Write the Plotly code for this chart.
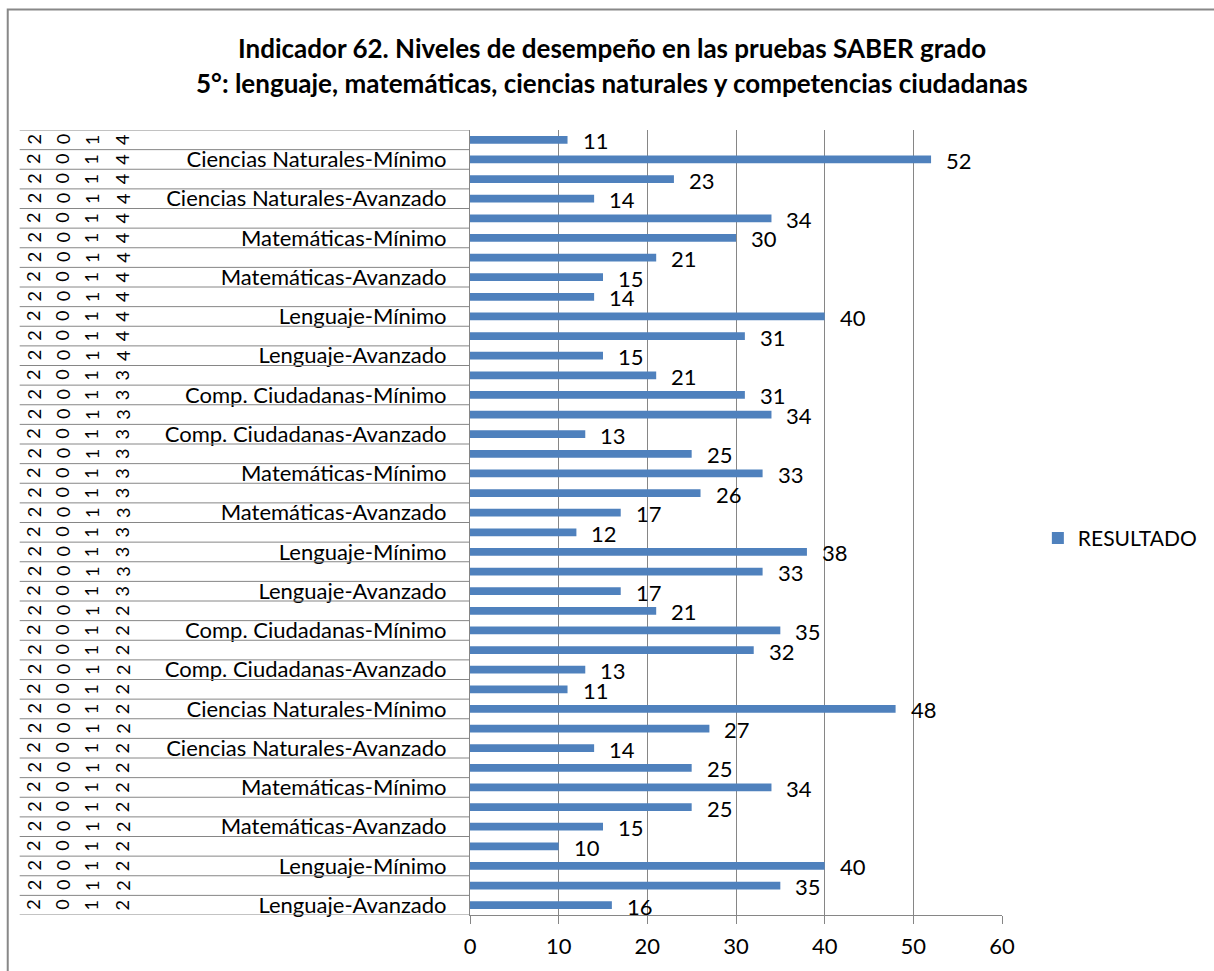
import plotly.graph_objects as go

# ---------------- data (bottom row first) ----------------
years = ["2012"] * 16 + ["2013"] * 12 + ["2014"] * 12

categories_2012 = [
    "Lenguaje-Avanzado", "Lenguaje-Satisfactorio", "Lenguaje-Mínimo", "Lenguaje-Insuficiente",
    "Matemáticas-Avanzado", "Matemáticas-Satisfactorio", "Matemáticas-Mínimo", "Matemáticas-Insuficiente",
    "Ciencias Naturales-Avanzado", "Ciencias Naturales-Satisfactorio", "Ciencias Naturales-Mínimo",
    "Ciencias Naturales-Insuficiente",
    "Comp. Ciudadanas-Avanzado", "Comp. Ciudadanas-Satisfactorio", "Comp. Ciudadanas-Mínimo",
    "Comp. Ciudadanas-Insuficiente",
]
values_2012 = [16, 35, 40, 10, 15, 25, 34, 25, 14, 27, 48, 11, 13, 32, 35, 21]

categories_2013 = [
    "Lenguaje-Avanzado", "Lenguaje-Satisfactorio", "Lenguaje-Mínimo", "Lenguaje-Insuficiente",
    "Matemáticas-Avanzado", "Matemáticas-Satisfactorio", "Matemáticas-Mínimo", "Matemáticas-Insuficiente",
    "Comp. Ciudadanas-Avanzado", "Comp. Ciudadanas-Satisfactorio", "Comp. Ciudadanas-Mínimo",
    "Comp. Ciudadanas-Insuficiente",
]
values_2013 = [17, 33, 38, 12, 17, 26, 33, 25, 13, 34, 31, 21]

categories_2014 = [
    "Lenguaje-Avanzado", "Lenguaje-Satisfactorio", "Lenguaje-Mínimo", "Lenguaje-Insuficiente",
    "Matemáticas-Avanzado", "Matemáticas-Satisfactorio", "Matemáticas-Mínimo", "Matemáticas-Insuficiente",
    "Ciencias Naturales-Avanzado", "Ciencias Naturales-Satisfactorio", "Ciencias Naturales-Mínimo",
    "Ciencias Naturales-Insuficiente",
]
values_2014 = [15, 31, 40, 14, 15, 21, 30, 34, 14, 23, 52, 11]

x_ticks = [0, 10, 20, 30, 40, 50, 60]
series_name = "RESULTADO"
title_line1 = "Indicador 62. Niveles de desempeño en las pruebas SABER grado"
title_line2 = "5°: lenguaje, matemáticas, ciencias naturales y competencias ciudadanas"

categories = categories_2012 + categories_2013 + categories_2014
values = values_2012 + values_2013 + values_2014
rows = list(range(len(values)))

# ---------------- layout geometry (pixels) ----------------
W_FIG, H_FIG = 1214, 971
L, R, T, B = 470, 1004, 130, 918
PW, PH = R - L, B - T


def px(x):
    return (x - L) / PW


def py(y):
    return (B - y) / PH


FONT = "Lato"
BLUE = "#4F81BD"
GRAY = "#868686"

fig = go.Figure()
fig.add_trace(go.Bar(
    x=values, y=rows, orientation="h", width=0.4,
    marker=dict(color=BLUE, line=dict(width=0)),
    name=series_name, showlegend=True,
))

annotations = []
# data labels
for i, v in zip(rows, values):
    annotations.append(dict(
        x=v, y=i, xref="x", yref="y", text=str(v), showarrow=False,
        xanchor="left", yanchor="middle", xshift=13, yshift=-1,
        font=dict(family=FONT, size=22, color="#000000"),
    ))

# rotated year digits
digit_x = [32, 61, 90, 121]
for i, yr in zip(rows, years):
    for k, ch in enumerate(yr):
        annotations.append(dict(
            x=px(digit_x[k]), y=i, xref="paper", yref="y", text=ch, showarrow=False,
            textangle=-90, xanchor="center", yanchor="middle",
            font=dict(family=FONT, size=18, color="#000000"),
        ))

# title
annotations.append(dict(x=px(613), y=py(48), xref="paper", yref="paper", text="<b>" + title_line1 + "</b>",
                        showarrow=False, xanchor="center", yanchor="middle",
                        font=dict(family=FONT, size=26, color="#000000")))
annotations.append(dict(x=px(613), y=py(83), xref="paper", yref="paper", text="<b>" + title_line2 + "</b>",
                        showarrow=False, xanchor="center", yanchor="middle",
                        font=dict(family=FONT, size=26, color="#000000")))

shapes = []
# category separators in label area
for b in range(len(values) + 1):
    shapes.append(dict(type="line", xref="paper", yref="y", x0=px(18), x1=0,
                       y0=b - 0.5, y1=b - 0.5, line=dict(color=GRAY, width=1)))
# outer chart border
shapes.append(dict(type="rect", xref="paper", yref="paper", x0=px(6), x1=px(1230),
                   y0=py(990), y1=py(9), line=dict(color="#888888", width=2), layer="below"))

fig.update_layout(
    width=W_FIG, height=H_FIG,
    margin=dict(l=L, r=W_FIG - R, t=T, b=H_FIG - B, pad=0),
    paper_bgcolor="white", plot_bgcolor="white",
    font=dict(family=FONT, color="#000000"),
    xaxis=dict(
        range=[0, 60], tickvals=x_ticks, ticktext=[str(t) for t in x_ticks],
        showgrid=True, gridcolor=GRAY, gridwidth=1,
        showline=True, linecolor=GRAY, linewidth=1,
        ticks="outside", ticklen=8, tickcolor=GRAY, tickwidth=1,
        tickfont=dict(family=FONT, size=22, color="#000000"),
        ticklabelstandoff=4, zeroline=False, fixedrange=True,
    ),
    yaxis=dict(
        range=[-0.5, len(values) - 0.5],
        tickvals=rows[0::2], ticktext=categories[0::2],
        showgrid=False, showline=True, linecolor=GRAY, linewidth=1,
        ticks="", tickfont=dict(family=FONT, size=22, color="#000000"),
        ticklabelstandoff=18, zeroline=False, fixedrange=True,
    ),
    legend=dict(
        x=px(1040), y=py(540), xanchor="left", yanchor="middle",
        xref="paper", yref="paper",
        font=dict(family=FONT, size=21, color="#000000"),
        bgcolor="rgba(0,0,0,0)", borderwidth=0, itemwidth=30,
    ),
    bargap=0.6,
    annotations=annotations,
    shapes=shapes,
)

fig.write_html("out.html", config={"displayModeBar": False},
               post_script="document.body.style.margin='0px';")
